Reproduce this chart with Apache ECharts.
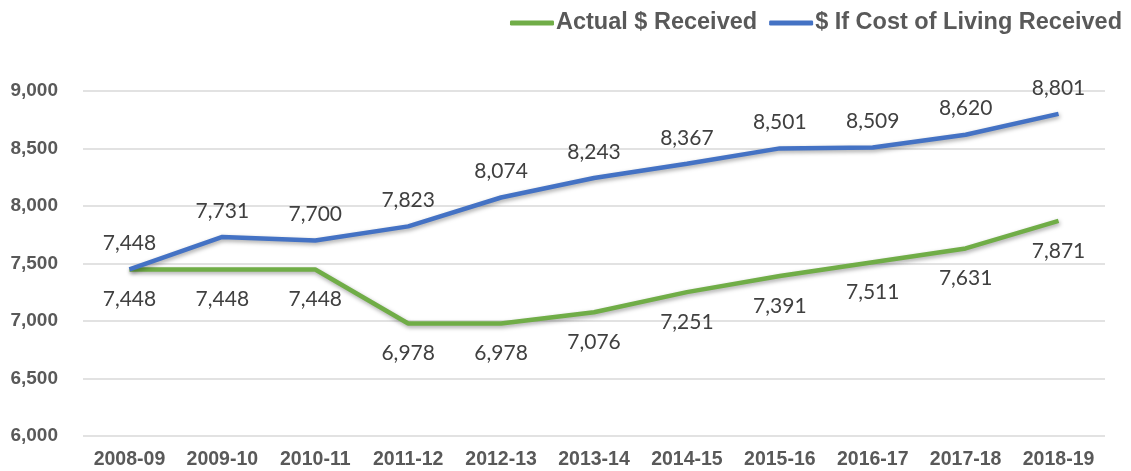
<!DOCTYPE html>
<html><head><meta charset="utf-8">
<script src="https://cdn.jsdelivr.net/npm/echarts@6/dist/echarts.min.js"></script>
<style>html,body{margin:0;padding:0;background:#fff}#c{width:1131px;height:471px}</style>
</head><body><div id="c"></div>
<script>
const categories = ['2008-09','2009-10','2010-11','2011-12','2012-13','2013-14','2014-15','2015-16','2016-17','2017-18','2018-19'];
const actualReceived = [7448,7448,7448,6978,6978,7076,7251,7391,7511,7631,7871];
const costOfLiving = [7448,7731,7700,7823,8074,8243,8367,8501,8509,8620,8801];
const yTicks = {min:6000, max:9000, interval:500};

const chart = echarts.init(document.getElementById('c'));
const fmt = v => v.toLocaleString('en-US');
const shadow = {shadowColor:'rgba(0,0,0,0.35)', shadowBlur:4, shadowOffsetY:2, shadowOffsetX:1};
chart.setOption({
  animation:false,
  legend:{
    top:6, right:4, itemGap:12, itemWidth:44, itemHeight:5, icon:'roundRect',
    itemStyle:{opacity:1},
    textStyle:{fontFamily:'Liberation Sans', fontWeight:'bold', fontSize:23.5, color:'#595959', padding:[0,0,0,-3]},
    data:[
      {name:'Actual $ Received', itemStyle:{color:'#70AD47', opacity:1}},
      {name:'$ If Cost of Living Received', itemStyle:{color:'#4472C4', opacity:1}}
    ]
  },
  grid:{left:83, right:26, top:91, bottom:35, containLabel:false},
  xAxis:{
    type:'category', data:categories, boundaryGap:true,
    axisLine:{show:false}, axisTick:{show:false},
    axisLabel:{interval:0, fontFamily:'Liberation Sans', fontWeight:'bold', fontSize:19.5, color:'#595959', margin:14}
  },
  yAxis:{
    type:'value', min:yTicks.min, max:yTicks.max, interval:yTicks.interval,
    axisLine:{show:false}, axisTick:{show:false},
    splitLine:{lineStyle:{color:'#d9d9d9', width:1.5}},
    axisLabel:{fontFamily:'Liberation Sans', fontWeight:'bold', fontSize:19, color:'#595959', margin:25, formatter:fmt}
  },
  series:[
    {name:'Actual $ Received', type:'line', data:actualReceived, symbol:'circle', symbolSize:1, showSymbol:true,
     itemStyle:{opacity:0}, color:'#70AD47',
     lineStyle:Object.assign({width:4.5, color:'#70AD47'}, shadow),
     label:{show:true, position:'bottom', distance:19, formatter:p=>fmt(p.value),
       fontFamily:'Lato', fontSize:21, color:'#404040', opacity:1}},
    {name:'$ If Cost of Living Received', type:'line', data:costOfLiving, symbol:'circle', symbolSize:1, showSymbol:true,
     itemStyle:{opacity:0}, color:'#4472C4',
     lineStyle:Object.assign({width:4.5, color:'#4472C4'}, shadow),
     label:{show:true, position:'top', distance:15, formatter:p=>fmt(p.value),
       fontFamily:'Lato', fontSize:21, color:'#404040', opacity:1}}
  ]
});
</script></body></html>
